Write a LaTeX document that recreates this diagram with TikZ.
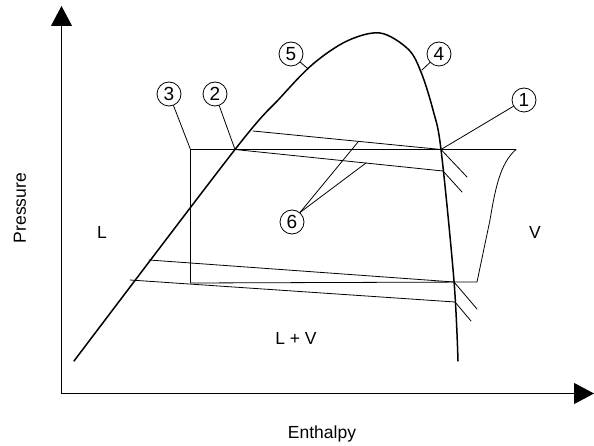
\documentclass[tikz,border=0pt]{standalone}
\usepackage{fontspec}
\setmainfont{Liberation Sans}
\usetikzlibrary{arrows.meta,calc}

\begin{document}
\begin{tikzpicture}[x=1pt,y=-1pt,line cap=round,line join=round,line width=0.8pt,
    num/.style={draw,circle,line width=0.8pt,inner sep=0pt,minimum size=24pt,font=\fontsize{19}{21}\selectfont},
    lbl/.style={font=\fontsize{17.5}{20}\selectfont},
    axis/.style={-{Triangle[length=20pt,width=21pt]}}]
    \useasboundingbox (0,0) rectangle (594,446);
    % axes
    \coordinate (O) at (61.5,393.5);
    \draw[axis] (O) -- (61.5,6);
    \draw[axis] (O) -- (594,393.5);
    \node[lbl,rotate=90] (pres) at (20,208) {Pressure};
    \node[lbl] (enth) at (322,434) {Enthalpy};
    % saturation dome
    \draw[line width=1.5pt] plot[smooth,tension=0.55] coordinates {(74,361) (235,149.5) (280,98) (313,64) (347,41) (380,33) (408,49) (421,72) (433,110) (441,149.5) (454,281) (458,361)};
    % points
    \coordinate (p1) at (441,149.5);
    \coordinate (p2) at (235,149.5);
    \coordinate (p3) at (190.5,149.5);
    \coordinate (p4) at (422,70);
    \coordinate (p5) at (307,68);
    \coordinate (q1) at (454,282);
    \coordinate (q3) at (190.5,283);
    \coordinate (r1) at (516,149.5);
    \coordinate (r2) at (477,282);
    % cycle
    \draw (q3) -- (p3) -- (r1) .. controls (500,163) and (495,190) .. (490,220) -- (r2) -- (q3);
    % upper lines
    \draw (253,131) -- (p1) -- (467,177);
    \draw (p2) -- (443,171) -- (462,192);
    % lower lines
    \draw (149,260) -- (q1) -- (477,309);
    \draw (130,280) -- (455,302) -- (471,321);
    % labels
    \node[num] (n1) at (524,100) {1};
    \node[num] (n2) at (215,94) {2};
    \node[num] (n3) at (169,94) {3};
    \node[num] (n4) at (439,54) {4};
    \node[num] (n5) at (291,54) {5};
    \node[num] (n6) at (292,222) {6};
    \draw (n1) -- (p1);
    \draw (n2) -- (p2);
    \draw (n3) -- (p3);
    \draw (n4) -- (p4);
    \draw (n5) -- (p5);
    \draw (n6.50) -- (358,142);
    \draw (n6.50) -- (366,163);
    \node[lbl] (liq) at (102,232) {L};
    \node[lbl] (vap) at (535,232) {V};
    \node[lbl] (mix) at (296,338) {L + V};
\end{tikzpicture}
\end{document}
